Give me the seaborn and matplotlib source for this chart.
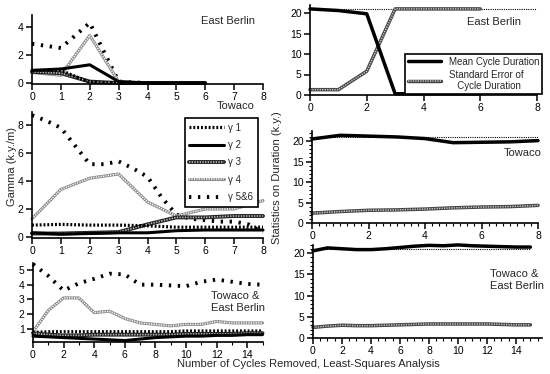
import numpy as np
import pandas as pd
import matplotlib
matplotlib.use("Agg")
import matplotlib.pyplot as plt
import seaborn as sns
from matplotlib.lines import Line2D
from matplotlib.ticker import MultipleLocator

sns.set_style("ticks")
plt.rcParams['font.family'] = ['Liberation Sans', 'DejaVu Sans']

# --- data: East Berlin (ilk 3 döngü) ---
x_eb = [0, 1, 2, 3, 4, 5, 6]
eb_g1 = [0.9, 0.9, 0.05, 0.0, 0.0, 0.0, 0.0]
eb_g2 = [0.9, 1.0, 1.3, 0.1, 0.0, 0.0, 0.0]
eb_g3 = [0.8, 0.7, 0.1, 0.0, 0.0, 0.0, 0.0]
eb_g4 = [0.75, 0.55, 3.4, 0.1, 0.0, 0.0, 0.0]
eb_g56 = [2.8, 2.5, 4.3, 0.1, 0.0, 0.0, 0.0]
eb_mean = [21.0, 20.6, 19.8, 0.3, 0.3, 0.3, 0.3]
eb_se = [1.3, 1.3, 5.8, 21.0, 21.0, 21.0, 21.0]

# --- Towaco ---
x_tw = [0, 1, 2, 3, 4, 5, 6, 7, 8]
tw_g1 = [0.85, 0.9, 0.85, 0.85, 0.8, 0.7, 0.7, 0.7, 0.7]
tw_g2 = [0.3, 0.2, 0.25, 0.3, 0.3, 0.45, 0.5, 0.5, 0.5]
tw_g3 = [0.25, 0.25, 0.3, 0.35, 0.9, 1.4, 1.4, 1.5, 1.5]
tw_g4 = [1.3, 3.4, 4.2, 4.5, 2.5, 1.5, 2.0, 2.0, 2.6]
x_tw_half = [0, 0.5, 1, 1.5, 2, 2.5, 3, 3.5, 4, 4.5, 5, 5.5, 6, 6.5, 7, 7.5, 8]
tw_g56 = [8.7, 8.3, 7.8, 6.5, 5.2, 5.2, 5.4, 4.9, 4.3, 2.8, 1.6, 1.3, 1.2, 1.1, 1.1, 0.9, 0.3]
tw_mean = [20.5, 21.4, 21.2, 21.0, 20.6, 19.6, 19.7, 19.8, 20.1]
tw_se = [2.4, 2.8, 3.1, 3.2, 3.4, 3.7, 3.9, 4.0, 4.3]

# --- Towaco & East Berlin ---
x_both = list(range(16))
bo_g1 = [0.75, 0.8, 0.8, 0.8, 0.8, 0.8, 0.8, 0.8, 0.8, 0.8, 0.85, 0.85, 0.85, 0.85, 0.85, 0.85]
bo_g2 = [0.5, 0.45, 0.4, 0.35, 0.3, 0.25, 0.2, 0.3, 0.4, 0.45, 0.5, 0.5, 0.55, 0.55, 0.6, 0.6]
bo_g3 = [0.7, 0.6, 0.55, 0.55, 0.6, 0.6, 0.6, 0.6, 0.6, 0.6, 0.65, 0.65, 0.65, 0.65, 0.7, 0.7]
bo_g4 = [0.8, 2.25, 3.1, 3.1, 2.1, 2.2, 1.7, 1.4, 1.3, 1.2, 1.3, 1.3, 1.5, 1.4, 1.4, 1.4]
bo_g56 = [5.4, 4.6, 3.6, 4.1, 4.4, 4.75, 4.7, 4.0, 4.0, 3.95, 3.9, 4.2, 4.35, 4.2, 4.05, 4.0]
bo_mean = [20.5, 21.2, 21.0, 20.8, 20.8, 21.0, 21.3, 21.6, 21.8, 21.7, 21.9, 21.7, 21.6, 21.5, 21.4, 21.4]
bo_se = [2.5, 2.8, 3.0, 2.9, 2.9, 3.0, 3.1, 3.2, 3.3, 3.3, 3.3, 3.3, 3.3, 3.2, 3.1, 3.1]

ref_duration = 21.0

W, H = 550, 374
fig = plt.figure(figsize=(W / 100, H / 100), dpi=100)


def box(l, r, b, t):
    return [l / W, 1 - b / H, (r - l) / W, (b - t) / H]


def ftext(x, y, s, **kw):
    fig.text(x / W, 1 - y / H, s, **kw)


# çizgi stilleri
def draw_g1(ax, x, y):
    sns.lineplot(x=x, y=y, ax=ax, color='black', lw=2.3, linestyle=(0, (0.6, 0.6)),
                 solid_capstyle='butt', clip_on=False)


def draw_g2(ax, x, y):
    sns.lineplot(x=x, y=y, ax=ax, color='black', lw=2.2, clip_on=False)


def draw_g3(ax, x, y):
    sns.lineplot(x=x, y=y, ax=ax, color='#222222', lw=2.8, clip_on=False)
    sns.lineplot(x=x, y=y, ax=ax, color='#bbbbbb', lw=1.2, linestyle=(0, (0.8, 0.8)), clip_on=False)


def draw_g4(ax, x, y):
    sns.lineplot(x=x, y=y, ax=ax, color='#8a8a8a', lw=2.2, clip_on=False)
    sns.lineplot(x=x, y=y, ax=ax, color='white', lw=1.1, linestyle=(0, (0.8, 0.8)), clip_on=False)


def draw_g56(ax, x, y):
    sns.lineplot(x=x, y=y, ax=ax, color='black', lw=2.8, linestyle=(0, (0.6, 1.7)), clip_on=False)


def draw_mean(ax, x, y):
    sns.lineplot(x=x, y=y, ax=ax, color='black', lw=2.5, clip_on=False)


def draw_se(ax, x, y):
    sns.lineplot(x=x, y=y, ax=ax, color='#444444', lw=2.5, clip_on=False)
    sns.lineplot(x=x, y=y, ax=ax, color='#cccccc', lw=1.1, linestyle=(0, (0.8, 0.8)), clip_on=False)


def style_axes(ax):
    sns.despine(ax=ax)
    for s in ['left', 'bottom']:
        ax.spines[s].set_linewidth(1.2)
        ax.spines[s].set_color('black')
    ax.tick_params(which='major', direction='out', length=4, width=1.1, labelsize=7.5, pad=2, colors='black')
    ax.tick_params(which='minor', direction='out', length=2, width=0.8, colors='black')
    ax.set_xlabel('')
    ax.set_ylabel('')


# --- Sol üst: East Berlin gamma ---
ax1 = fig.add_axes(box(32, 263, 83.7, 15.1))
draw_g56(ax1, x_eb, eb_g56)
draw_g4(ax1, x_eb, eb_g4)
draw_g3(ax1, x_eb, eb_g3)
draw_g2(ax1, x_eb, eb_g2)
draw_g1(ax1, x_eb, eb_g1)
ax1.set_xlim(0, 8)
ax1.set_ylim(-0.05, 4.85)
ax1.set_xticks(range(9))
ax1.set_yticks([0, 2, 4])
style_axes(ax1)

# --- Sol orta: Towaco gamma ---
ax2 = fig.add_axes(box(32, 263, 237.7, 112.4))
draw_g56(ax2, x_tw_half, tw_g56)
draw_g4(ax2, x_tw, tw_g4)
draw_g3(ax2, x_tw, tw_g3)
draw_g1(ax2, x_tw, tw_g1)
draw_g2(ax2, x_tw, tw_g2)
ax2.set_xlim(0, 8)
ax2.set_ylim(-0.05, 8.9)
ax2.set_xticks(range(9))
ax2.set_yticks([0, 2, 4, 6, 8])
style_axes(ax2)

handles = [
    Line2D([], [], color='black', lw=2.3, linestyle=(0, (0.6, 0.6))),
    Line2D([], [], color='black', lw=2.2),
    (Line2D([], [], color='#222222', lw=2.8),
     Line2D([], [], color='#bbbbbb', lw=1.2, linestyle=(0, (0.8, 0.8)))),
    (Line2D([], [], color='#8a8a8a', lw=2.2),
     Line2D([], [], color='white', lw=1.1, linestyle=(0, (0.8, 0.8)))),
    Line2D([], [], color='black', lw=2.8, linestyle=(0, (0.6, 1.7))),
]
labels = ['γ 1', 'γ 2', 'γ 3', 'γ 4', 'γ 5&6']
leg = ax2.legend(handles, labels, loc='upper right', bbox_to_anchor=(1.0, 0.995),
                 fontsize=7, handlelength=3.6, labelspacing=0.75, handletextpad=0.4,
                 fancybox=False, framealpha=1, edgecolor='black', borderpad=0.5)
leg.get_frame().set_linewidth(1.2)

# --- Sol alt: Towaco & East Berlin gamma ---
ax3 = fig.add_axes(box(33, 262.5, 342, 263.4))
draw_g56(ax3, x_both, bo_g56)
draw_g4(ax3, x_both, bo_g4)
draw_g1(ax3, x_both, bo_g1)
draw_g3(ax3, x_both, bo_g3)
draw_g2(ax3, x_both, bo_g2)
ax3.set_xlim(0, 15)
ax3.set_ylim(0.1, 5.45)
ax3.set_xticks(range(0, 15, 2))
ax3.xaxis.set_minor_locator(MultipleLocator(1))
ax3.set_yticks([1, 2, 3, 4, 5])
style_axes(ax3)

# --- Sağ üst: East Berlin süre ---
ax4 = fig.add_axes(box(310, 537, 95, 4.8))
sns.lineplot(x=[0, 8], y=[ref_duration, ref_duration], ax=ax4, color='black', lw=0.8, linestyle=(0, (1, 1)))
draw_se(ax4, x_eb, eb_se)
draw_mean(ax4, x_eb, eb_mean)
ax4.set_xlim(0, 8)
ax4.set_ylim(0, 22)
ax4.set_xticks([0, 2, 4, 6, 8])
ax4.set_yticks([0, 5, 10, 15, 20])
style_axes(ax4)
h2 = [Line2D([], [], color='black', lw=2.5),
      (Line2D([], [], color='#444444', lw=2.5),
       Line2D([], [], color='#cccccc', lw=1.1, linestyle=(0, (0.8, 0.8))))]
leg2 = ax4.legend(h2, ['Mean Cycle Duration', 'Standard Error of\n   Cycle Duration'],
                  loc='upper right', bbox_to_anchor=(1.045, 0.51), fontsize=7,
                  handlelength=3.4, labelspacing=0.3, handletextpad=0.8,
                  fancybox=False, framealpha=1, edgecolor='black', borderpad=0.3)
leg2.get_frame().set_linewidth(1.2)

# --- Sağ orta: Towaco süre ---
ax5 = fig.add_axes(box(312, 538, 223, 131.2))
sns.lineplot(x=[0, 8], y=[ref_duration, ref_duration], ax=ax5, color='black', lw=0.8, linestyle=(0, (1, 1)))
draw_se(ax5, x_tw, tw_se)
draw_mean(ax5, x_tw, tw_mean)
ax5.set_xlim(0, 8)
ax5.set_ylim(0, 22.4)
ax5.set_xticks([0, 2, 4, 6, 8])
ax5.xaxis.set_minor_locator(MultipleLocator(0.25))
ax5.set_yticks([0, 5, 10, 15, 20])
ax5.yaxis.set_minor_locator(MultipleLocator(1))
style_axes(ax5)

# --- Sağ alt: Towaco & East Berlin süre ---
ax6 = fig.add_axes(box(313, 542, 338, 244.5))
sns.lineplot(x=[0, 15], y=[ref_duration, ref_duration], ax=ax6, color='black', lw=0.8, linestyle=(0, (1, 1)))
draw_se(ax6, x_both, bo_se)
draw_mean(ax6, x_both, bo_mean)
ax6.set_xlim(0, 15.8)
ax6.set_ylim(0, 22)
ax6.set_xticks(range(0, 15, 2))
ax6.xaxis.set_minor_locator(MultipleLocator(0.5))
ax6.set_yticks([0, 5, 10, 15, 20])
ax6.yaxis.set_minor_locator(MultipleLocator(1))
style_axes(ax6)

# --- metinler ---
ftext(228, 21, 'East Berlin', fontsize=8, ha='center', va='center')
ftext(236, 106, 'Towaco', fontsize=8, ha='center', va='center')
ftext(211, 302, 'Towaco &\nEast Berlin', fontsize=8, ha='left', va='center', linespacing=1.2)
ftext(494, 22, 'East Berlin', fontsize=8, ha='center', va='center')
ftext(542, 153, 'Towaco', fontsize=8, ha='right', va='center')
ftext(490, 280, 'Towaco &\nEast Berlin', fontsize=8, ha='left', va='center', linespacing=1.2)
ftext(12, 166, 'Gamma (k.y./m)', fontsize=8, rotation=90, ha='center', va='center')
ftext(277, 178, 'Statistics on Duration (k.y.)', fontsize=8, rotation=90, ha='center', va='center')
ftext(308, 364, 'Number of Cycles Removed, Least-Squares Analysis', fontsize=8, ha='center', va='center')

fig.savefig('out.png', dpi=100)
